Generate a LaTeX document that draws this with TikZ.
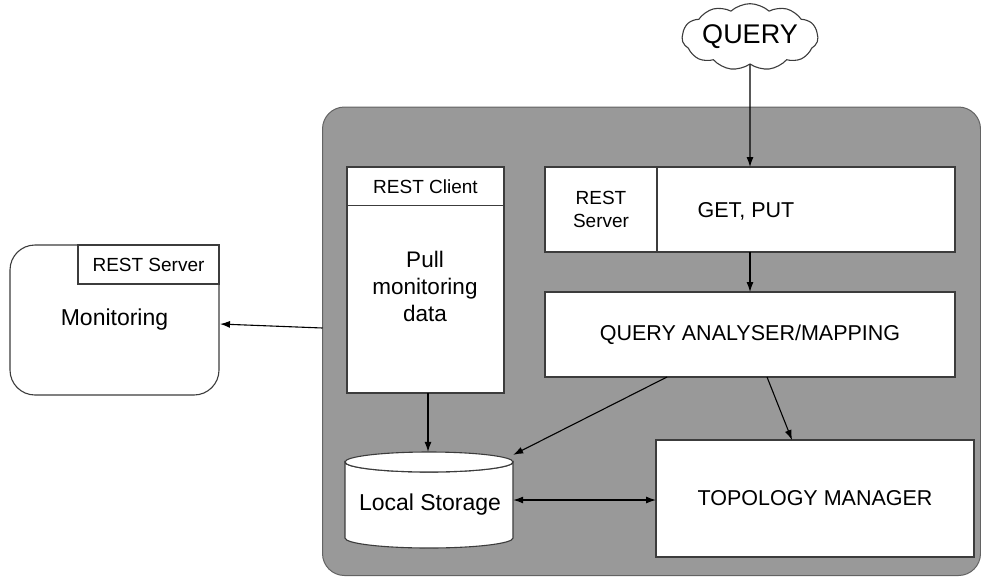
\documentclass[tikz,border=0pt]{standalone}
\usepackage{fontspec}
\setmainfont{Liberation Sans}
\usetikzlibrary{arrows.meta,shapes.symbols}

\definecolor{panelgray}{RGB}{153,153,153}
\definecolor{edgegray}{RGB}{60,60,60}

\tikzset{
  box/.style={draw=edgegray, line width=1.1pt, fill=white, rectangle,
    inner sep=0pt, outer sep=0pt, align=center},
  lbl/.style={inner sep=0pt, align=center},
  arr/.style={draw=black, line width=1.1pt, -{Latex[length=10pt,width=7pt]}},
  biarr/.style={draw=black, line width=1.1pt,
    {Latex[length=10pt,width=7pt]}-{Latex[length=10pt,width=7pt]}},
}
\newcommand{\bigtxt}{\fontsize{21.5}{25}\selectfont}
\newcommand{\midtxt}{\fontsize{23}{27}\selectfont}
\newcommand{\smalltxt}{\fontsize{19}{23.5}\selectfont}

\begin{document}
\begin{tikzpicture}[x=1pt, y=-1pt]
  \useasboundingbox (0,0) rectangle (981,576);

  % grey container holding the service components
  \node[draw=edgegray!80, line width=1pt, fill=panelgray, rounded corners=22,
        minimum width=658, minimum height=468.5, inner sep=0pt]
        (core) at (651.5,341.25) {};

  % external monitoring component
  \node[box, rounded corners=25, minimum width=209, minimum height=150]
        (mon) at (114.5,320) {\midtxt Monitoring};
  \node[box, minimum width=141, minimum height=39]
        (monrest) at (148.5,264.5) {\smalltxt REST Server};

  % REST client column
  \node[box, minimum width=157, minimum height=226] (client) at (425.5,280) {};
  \node[box, minimum width=157, minimum height=38.5]
        (clienthead) at (425.5,186.25) {\smalltxt REST Client};
  \node[lbl, font=\fontsize{22.5}{27}\selectfont] (pull) at (425,286)
        {Pull\\monitoring\\data};

  % REST server with GET / PUT
  \node[box, minimum width=410, minimum height=85] (getput) at (750,209.5) {};
  \node[box, minimum width=112, minimum height=85,
        font=\fontsize{19}{23}\selectfont]
        (srv) at (601,209.5) {REST\\Server};
  \node[lbl] (gp) at (746,211) {\bigtxt GET, PUT};

  % query analyser
  \node[box, minimum width=410, minimum height=85] (qa) at (750,334.5)
        {\bigtxt QUERY ANALYSER/MAPPING};

  % topology manager
  \node[box, minimum width=318, minimum height=117] (topo) at (815,498.5)
        {\bigtxt TOPOLOGY MANAGER};

  % local storage cylinder
  \node[inner sep=0pt, minimum width=168, minimum height=96] (store) at (429,500) {};
  \draw[draw=edgegray, line width=1.1pt, fill=white]
    (345,462) -- (345,538) arc[start angle=180, end angle=360, x radius=84, y radius=-10]
    -- (513,462) arc[start angle=0, end angle=-180, x radius=84, y radius=-10] -- cycle;
  \draw[draw=edgegray, line width=1.1pt, fill=white]
    (429,462) ellipse[x radius=84, y radius=10];
  \node[lbl] (storelbl) at (430,505) {\midtxt Local Storage};

  % incoming query
  \node[draw=edgegray, line width=1.1pt, fill=white, cloud, cloud puffs=11,
        cloud puff arc=85, aspect=2.5, minimum width=136, minimum height=60,
        inner sep=0pt] (query) at (750,37) {\fontsize{27}{30}\selectfont QUERY};

  % connectors
  \coordinate (coreleft) at (322.5,328);
  \coordinate (monport) at (220,324);
  \draw[arr] (coreleft) -- (monport);
  \draw[arr] (query) -- (getput);
  \draw[arr] (getput) -- (qa);
  \draw[arr] (client.south -| 428,0) -- (store.north -| 428,0);
  \draw[arr] ([xshift=-83pt]qa.south) -- ([yshift=-3pt]store.north east);
  \draw[arr] ([xshift=17pt]qa.south) -- ([xshift=-23pt]topo.north);
  \draw[biarr] (store.east) -- (store.east -| topo.west);
\end{tikzpicture}
\end{document}
